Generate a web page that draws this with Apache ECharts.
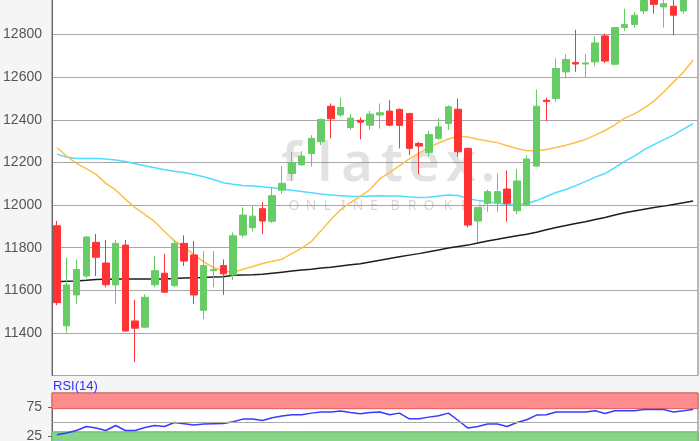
<!DOCTYPE html>
<html><head><meta charset="utf-8">
<script src="https://cdn.jsdelivr.net/npm/echarts@6/dist/echarts.min.js"></script>
<style>html,body{margin:0;padding:0;background:#f5f5f5;}#c{width:700px;height:441px;}</style>
</head><body><div id="c"></div>
<script>
// ---- data ----
const categories = ['1','2','3','4','5','6','7','8','9','10','11','12','13','14','15','16','17','18','19','20','21','22','23','24','25','26','27','28','29','30','31','32','33','34','35','36','37','38','39','40','41','42','43','44','45','46','47','48','49','50','51','52','53','54','55','56','57','58','59','60','61','62','63','64','65','66'];
// [open, close, low, high]
const ohlc = [
[11903,11542,11530,11926],[11433,11625,11401,11753],[11578,11697,11536,11745],[11667,11850,11656,11855],
[11825,11755,11667,11864],[11728,11626,11614,11836],[11625,11820,11536,11836],[11812,11409,11405,11836],
[11456,11422,11263,11555],[11427,11567,11422,11581],[11626,11692,11614,11761],[11680,11591,11591,11772],
[11622,11820,11614,11836],[11820,11737,11714,11858],[11766,11578,11536,11831],[11506,11716,11464,11784],
[11692,11697,11614,11784],[11716,11677,11578,11745],[11672,11856,11648,11872],[11859,11953,11847,11989],
[11894,11948,11875,11998],[11983,11925,11863,12014],[11924,12044,11917,12083],[12070,12102,12052,12183],
[12148,12198,12114,12250],[12189,12230,12183,12253],[12242,12313,12180,12328],[12297,12402,12281,12406],
[12464,12405,12313,12477],[12423,12458,12414,12505],[12364,12408,12352,12427],[12398,12389,12308,12411],
[12375,12427,12352,12442],[12423,12433,12359,12477],[12441,12375,12370,12492],[12449,12374,12266,12453],
[12430,12266,12234,12433],[12289,12277,12145,12297],[12247,12331,12227,12348],[12313,12367,12305,12409],
[12383,12461,12352,12469],[12450,12250,12227,12500],[12266,11906,11895,12270],[11925,11989,11828,11990],
[12008,12063,11969,12073],[12011,12063,11969,12148],[12075,12008,11922,12161],[11973,12113,11958,12169],
[12003,12216,11995,12234],[12183,12464,12180,12542],[12492,12486,12394,12505],[12500,12641,12484,12688],
[12625,12683,12594,12708],[12669,12662,12625,12823],[12662,12667,12601,12708],[12672,12761,12652,12792],
[12794,12676,12667,12805],[12661,12833,12656,12836],[12833,12847,12817,12922],[12848,12891,12833,12906],
[12911,12960,12895,12990],[12975,12942,12898,12995],[12930,12945,12833,12985],[12933,12891,12797,12965],
[12911,12970,12898,12985]
];
const ma20 = [12269,12230,12196,12171,12144,12102,12071,12028,11988,11955,11922,11876,11832,11804,11767,11733,11707,11690,11684,11699,11712,11726,11736,11746,11772,11798,11829,11880,11932,11979,12012,12041,12073,12124,12152,12185,12217,12244,12271,12291,12310,12323,12319,12309,12301,12293,12278,12265,12255,12255,12261,12270,12281,12294,12308,12328,12350,12376,12408,12428,12455,12488,12531,12577,12623,12680];
const ma50 = [12239,12226,12219,12219,12219,12216,12211,12204,12194,12184,12175,12166,12159,12153,12143,12133,12120,12105,12098,12092,12089,12086,12081,12075,12070,12064,12058,12052,12047,12044,12041,12040,12042,12044,12043,12042,12038,12036,12037,12042,12047,12045,12030,12022,12015,12008,12003,12003,12007,12021,12040,12059,12073,12091,12110,12131,12148,12176,12205,12230,12260,12284,12307,12328,12356,12382];
const ma200 = [11640,11642,11644,11647,11651,11652,11653,11653,11653,11653,11653,11653,11655,11658,11659,11660,11662,11663,11670,11672,11673,11675,11680,11685,11690,11695,11699,11704,11708,11714,11720,11725,11733,11741,11749,11757,11765,11772,11781,11789,11798,11805,11812,11822,11831,11839,11848,11856,11863,11872,11884,11895,11904,11913,11922,11932,11942,11953,11964,11972,11980,11988,11995,12003,12011,12019];
const rsi = [27.9,30.9,35.3,42.2,39.5,35.3,44,35.3,35.3,40.5,44,42.2,49.1,46.9,44.7,46.4,46.9,47.4,50.3,55,55,52.6,57.2,60.2,62.4,62.4,65.3,67.1,67.1,68.8,66.4,64.1,66.4,67.1,62.4,65.3,55.5,55.5,58.4,60.7,65.3,52.6,39.5,42.2,46.4,46.4,42.2,49.1,53.8,61.9,62.4,67.1,67.1,67.1,67.1,69.3,64.7,69.3,69.3,69.3,71.6,71.6,71.6,67.1,69.3,71.6];
const priceTicks = [11400,11600,11800,12000,12200,12400,12600,12800];
const rsiTicks = [25,75];
const rsiUpper = 73, rsiLower = 33, rsiMid = 50;
const rsiTitle = 'RSI(14)';
const watermarkBig = ['f','l','a','t','e','x','.'];
const watermarkSmall = ['O','N','L','I','N','E','B','R','O','K','E','R'];

// ---- chart ----
const chart = echarts.init(document.getElementById('c'), null, {renderer:'canvas'});
const labelFont = {color:'#555', fontSize:14, fontFamily:'Liberation Sans, Arial, sans-serif'};
const bigX = [291,325,357,392,424,461,488];
const smallX = [294,311,327.5,343,358,374,395,412,429,448,465,482];
const graphics = [];
watermarkBig.forEach((ch,i)=>graphics.push({type:'text', x:bigX[i], y:166, z:1, silent:true,
  style:{text:ch, font:'600 54px "Noto Sans", sans-serif', fill:'rgba(120,120,120,0.21)', textAlign:'center', textVerticalAlign:'middle'}}));
watermarkSmall.forEach((ch,i)=>graphics.push({type:'text', x:smallX[i], y:206, z:1, silent:true,
  style:{text:ch, font:'14px "Noto Sans", sans-serif', fill:'rgba(120,120,120,0.3)', textAlign:'center', textVerticalAlign:'middle'}}));
graphics.push({type:'text', left:53, top:380, z:5, silent:true,
  style:{text:rsiTitle, font:'13px "Liberation Sans", Arial, sans-serif', fill:'#3030ff'}});

chart.setOption({
  animation:false,
  backgroundColor:'#f5f5f5',
  graphic: graphics,
  grid:[
    {left:52, right:2, top:-8, height:383.5, outerBoundsMode:'none', containLabel:false, show:true, backgroundColor:'#fff', borderColor:'#777', borderWidth:1},
    {left:52, right:2, top:393, height:58, outerBoundsMode:'none', containLabel:false, show:true, backgroundColor:'#fff', borderColor:'#777', borderWidth:1}
  ],
  xAxis:[
    {type:'category', data:categories, gridIndex:0, axisLine:{show:false}, axisTick:{show:false}, axisLabel:{show:false}},
    {type:'category', data:categories, gridIndex:1, axisLine:{show:false}, axisTick:{show:false}, axisLabel:{show:false}}
  ],
  yAxis:[
    {type:'value', gridIndex:0, min:11200, max:13000, interval:200,
     axisLine:{show:true, lineStyle:{color:'#666', width:1}}, axisTick:{show:false},
     axisLabel:Object.assign({margin:10, formatter:v=>priceTicks.indexOf(v)>=0?String(v):''}, labelFont),
     splitLine:{show:true, lineStyle:{color:'#a8a8a8', width:1}}},
    {type:'value', gridIndex:1, min:0, max:100,
     axisLine:{show:true, lineStyle:{color:'#666', width:1}},
     axisTick:{show:true, length:4, customValues:rsiTicks, lineStyle:{color:'#666'}},
     axisLabel:Object.assign({margin:10, customValues:rsiTicks}, labelFont),
     splitLine:{show:false}}
  ],
  series:[
    {name:'GD200', type:'line', xAxisIndex:0, yAxisIndex:0, data:ma200, symbol:'none', z:3,
     lineStyle:{color:'#1e1e1e', width:1.5}},
    {name:'GD50', type:'line', xAxisIndex:0, yAxisIndex:0, data:ma50, symbol:'none', z:3,
     lineStyle:{color:'#50dcff', width:1.5}},
    {name:'GD20', type:'line', xAxisIndex:0, yAxisIndex:0, data:ma20, symbol:'none', z:3,
     lineStyle:{color:'#ffbf47', width:1.5}},
    {name:'Kurs', type:'candlestick', xAxisIndex:0, yAxisIndex:0, data:ohlc, z:4, barWidth:7,
     itemStyle:{color:'#66cc66', color0:'#ff3333', borderColor:'#66cc66', borderColor0:'#ff3333', borderWidth:1}},
    {name:'RSI', type:'line', xAxisIndex:1, yAxisIndex:1, data:rsi, symbol:'none', z:4,
     lineStyle:{color:'#3a3aff', width:1.5},
     markLine:{silent:true, symbol:'none', label:{show:false}, lineStyle:{color:'#aaa', type:'solid', width:1},
       data:[{yAxis:rsiMid}]},
     markArea:{silent:true, label:{show:false},
       data:[
         [{yAxis:rsiUpper, itemStyle:{color:'#ff8c8c', borderColor:'#e25c5c', borderWidth:1}},{yAxis:100}],
         [{yAxis:0, itemStyle:{color:'#88d488', borderColor:'#5cb85c', borderWidth:1}},{yAxis:rsiLower}]
       ]}}
  ]
});
</script></body></html>
